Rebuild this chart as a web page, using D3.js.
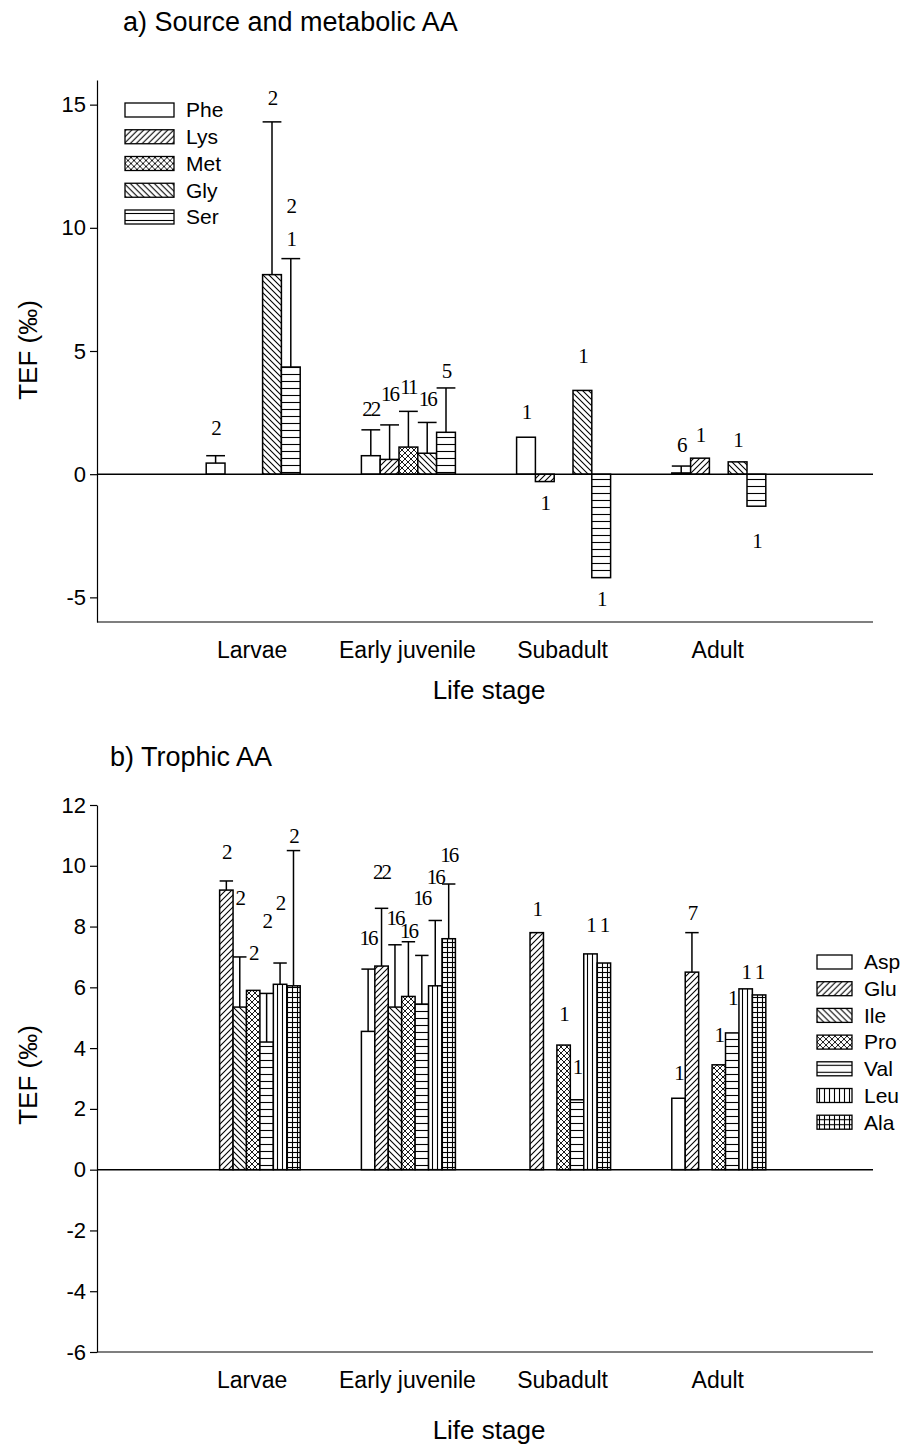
<!doctype html>
<html lang="en">

<head>
    <meta charset="UTF-8">
    <title>TEF by life stage</title>
    <script src="https://d3js.org/d3.v7.min.js"></script>
    <style>
        body {
            margin: 0;
            background: white;
        }

        svg {
            display: block;
        }

        text {
            font-family: Arial, "Liberation Sans", sans-serif;
            fill: black;
        }

        .n {
            font-family: "Times New Roman", "Liberation Serif", serif;
            font-size: 21px;
            letter-spacing: -2px;
        }
    </style>
</head>

<body>
    <svg width="915" height="1445"></svg>

    <script>
        const stages = ['Larvae', 'Early juvenile', 'Subadult', 'Adult'];

        // panel a: source and metabolic AA (null = not measured)
        const seriesA = ['Phe', 'Lys', 'Met', 'Gly', 'Ser'];
        const phe = [0.45, 0.75, 1.5, 0.05];
        const lys = [null, 0.6, -0.3, 0.65];
        const met = [null, 1.1, null, null];
        const gly = [8.1, 0.85, 3.4, 0.5];
        const ser = [4.35, 1.7, -4.2, -1.3];
        const pheErr = [0.3, 1.05, null, 0.28];
        const lysErr = [null, 1.4, null, null];
        const metErr = [null, 1.45, null, null];
        const glyErr = [6.2, 1.25, null, null];
        const serErr = [4.4, 1.8, null, null];
        const ticksA = [-5, 0, 5, 10, 15];

        // sample sizes written over the bars: [stage, series, text, height in TEF units]
        const nA = [
            [0, 'Phe', '2', 1.9], [0, 'Gly', '2', 15.3], [0, 'Ser', '2', 10.9], [0, 'Ser', '1', 9.55],
            [1, 'Phe', '22', 2.65], [1, 'Lys', '16', 3.25], [1, 'Met', '11', 3.55], [1, 'Gly', '16', 3.05], [1, 'Ser', '5', 4.2],
            [2, 'Phe', '1', 2.55], [2, 'Lys', '1', -1.15], [2, 'Gly', '1', 4.8], [2, 'Ser', '1', -5.05],
            [3, 'Phe', '6', 1.2], [3, 'Lys', '1', 1.6], [3, 'Gly', '1', 1.4], [3, 'Ser', '1', -2.7]
        ];

        // panel b: trophic AA
        const seriesB = ['Asp', 'Glu', 'Ile', 'Pro', 'Val', 'Leu', 'Ala'];
        const asp = [null, 4.55, null, 2.35];
        const glu = [9.2, 6.7, 7.8, 6.5];
        const ile = [5.35, 5.35, null, null];
        const pro = [5.9, 5.7, 4.1, 3.45];
        const val = [4.2, 5.45, 2.3, 4.5];
        const leu = [6.1, 6.05, 7.1, 5.95];
        const ala = [6.05, 7.6, 6.8, 5.75];
        const aspErr = [null, 2.05, null, null];
        const gluErr = [0.3, 1.9, null, 1.3];
        const ileErr = [1.65, 2.05, null, null];
        const proErr = [null, 1.8, null, null];
        const valErr = [1.6, 1.6, null, null];
        const leuErr = [0.7, 2.15, null, null];
        const alaErr = [4.45, 1.8, null, null];
        const ticksB = [-6, -4, -2, 0, 2, 4, 6, 8, 10, 12];

        const nB = [
            [0, 'Glu', '2', 10.45], [0, 'Ile', '2', 8.95], [0, 'Pro', '2', 7.15], [0, 'Val', '2', 8.2], [0, 'Leu', '2', 8.8], [0, 'Ala', '2', 11.0],
            [1, 'Asp', '16', 7.65], [1, 'Glu', '22', 9.8], [1, 'Ile', '16', 8.3], [1, 'Pro', '16', 7.85], [1, 'Val', '16', 8.95], [1, 'Leu', '16', 9.65], [1, 'Ala', '16', 10.35],
            [2, 'Glu', '1', 8.6], [2, 'Pro', '1', 5.15], [2, 'Val', '1', 3.4], [2, 'Leu', '1', 8.05], [2, 'Ala', '1', 8.05],
            [3, 'Asp', '1', 3.2], [3, 'Glu', '7', 8.45], [3, 'Pro', '1', 4.45], [3, 'Val', '1', 5.65], [3, 'Leu', '1', 6.5], [3, 'Ala', '1', 6.5]
        ];

        const svg = d3.select('svg');
        const defs = svg.append('defs');

        // hatch patterns
        function pattern(id, size, draw) {
            const p = defs.append('pattern')
                .attr('id', id)
                .attr('patternUnits', 'userSpaceOnUse')
                .attr('width', size)
                .attr('height', size);
            p.append('rect').attr('width', size).attr('height', size).attr('fill', 'white');
            draw(p, size);
        }
        const ln = (p, x1, y1, x2, y2, w) => p.append('line')
            .attr('x1', x1).attr('y1', y1).attr('x2', x2).attr('y2', y2)
            .attr('stroke', 'black').attr('stroke-width', w || 1.1);

        pattern('fwd', 6, (p, s) => { ln(p, 0, s, s, 0); ln(p, -1, 1, 1, -1); ln(p, s - 1, s + 1, s + 1, s - 1); });
        pattern('back', 6, (p, s) => { ln(p, 0, 0, s, s); ln(p, -1, s - 1, 1, s + 1); ln(p, s - 1, -1, s + 1, 1); });
        pattern('cross', 6, (p, s) => {
            ln(p, 0, s, s, 0, 0.9); ln(p, 0, 0, s, s, 0.9);
        });
        pattern('horiz', 7, (p, s) => { ln(p, 0, 3.5, s, 3.5); });
        pattern('vert', 5, (p, s) => { ln(p, 2.5, 0, 2.5, s); });
        pattern('grid', 5, (p, s) => { ln(p, 2.5, 0, 2.5, s); ln(p, 0, 2.5, s, 2.5); });

        const fills = {
            Phe: 'white', Lys: 'url(#fwd)', Met: 'url(#cross)', Gly: 'url(#back)', Ser: 'url(#horiz)',
            Asp: 'white', Glu: 'url(#fwd)', Ile: 'url(#back)', Pro: 'url(#cross)', Val: 'url(#horiz)',
            Leu: 'url(#vert)', Ala: 'url(#grid)'
        };

        const left = 97;
        const right = 873;

        const x0 = d3.scalePoint()
            .domain(stages)
            .range([left, right])
            .padding(1);

        function panel(opt) {
            const y = d3.scaleLinear().domain(opt.domain).range([opt.bottom, opt.top]);
            const x1 = d3.scaleBand().domain(opt.series).range([-46, 48]);
            const g = svg.append('g');

            // bars
            opt.series.forEach((s, si) => {
                const vals = opt.values[si];
                const errs = opt.errors[si];
                const rows = stages.map((st, i) => ({ st, v: vals[i], e: errs[i] }))
                    .filter((d) => d.v !== null);

                g.selectAll(null)
                    .data(rows)
                    .enter()
                    .append('rect')
                    .attr('x', (d) => x0(d.st) + x1(s))
                    .attr('width', x1.bandwidth())
                    .attr('y', (d) => y(Math.max(0, d.v)))
                    .attr('height', (d) => Math.abs(y(d.v) - y(0)))
                    .attr('fill', fills[s])
                    .attr('stroke', 'black')
                    .attr('stroke-width', 1.5);

                const withErr = rows.filter((d) => d.e !== null);
                const cx = (d) => x0(d.st) + x1(s) + x1.bandwidth() / 2;

                g.selectAll(null)
                    .data(withErr)
                    .enter()
                    .append('line')
                    .attr('x1', cx).attr('x2', cx)
                    .attr('y1', (d) => y(d.v)).attr('y2', (d) => y(d.v + d.e))
                    .attr('stroke', 'black').attr('stroke-width', 1.5);

                g.selectAll(null)
                    .data(withErr)
                    .enter()
                    .append('line')
                    .attr('x1', (d) => x0(d.st) + x1(s)).attr('x2', (d) => x0(d.st) + x1(s) + x1.bandwidth())
                    .attr('y1', (d) => y(d.v + d.e)).attr('y2', (d) => y(d.v + d.e))
                    .attr('stroke', 'black').attr('stroke-width', 1.5);
            });

            // n labels
            g.selectAll(null)
                .data(opt.labels)
                .enter()
                .append('text')
                .attr('class', 'n')
                .attr('x', (d) => x0(stages[d[0]]) + x1(d[1]) + x1.bandwidth() / 2)
                .attr('y', (d) => y(d[3]))
                .attr('dy', '0.35em')
                .attr('text-anchor', 'middle')
                .text((d) => d[2]);

            // zero line and bottom line
            g.append('line')
                .attr('x1', left).attr('x2', right)
                .attr('y1', y(0)).attr('y2', y(0))
                .attr('stroke', 'black').attr('stroke-width', 1.5);
            g.append('line')
                .attr('x1', left).attr('x2', right)
                .attr('y1', opt.bottom).attr('y2', opt.bottom)
                .attr('stroke', 'black').attr('stroke-width', 1.2);

            // y axis
            const ax = g.append('g')
                .attr('transform', `translate(${left},0)`)
                .call(d3.axisLeft(y).tickValues(opt.ticks).tickFormat((d) => String(d))
                    .tickSize(7).tickSizeOuter(0).tickPadding(4));
            ax.selectAll('path, line').attr('stroke', 'black').attr('stroke-width', 1.2);
            ax.selectAll('text')
                .style('font-family', 'Arial, "Liberation Sans", sans-serif')
                .style('font-size', '22px');

            // category labels
            g.selectAll(null)
                .data(stages)
                .enter()
                .append('text')
                .attr('x', (d) => x0(d))
                .attr('y', opt.bottom + 28)
                .attr('dy', '0.35em')
                .attr('text-anchor', 'middle')
                .style('font-size', '23px')
                .text((d) => d);

            g.append('text')
                .attr('x', 489)
                .attr('y', opt.xTitleY)
                .attr('dy', '0.35em')
                .attr('text-anchor', 'middle')
                .style('font-size', '26px')
                .text('Life stage');

            g.append('text')
                .attr('transform', `translate(28,${opt.yTitleY}) rotate(-90)`)
                .attr('dy', '0.35em')
                .attr('text-anchor', 'middle')
                .style('font-size', '26px')
                .text('TEF (‰)');

            g.append('text')
                .attr('x', opt.titleX)
                .attr('y', opt.titleY)
                .attr('dy', '0.35em')
                .style('font-size', '27px')
                .text(opt.title);

            // legend
            const lg = g.selectAll(null)
                .data(opt.series)
                .enter()
                .append('g')
                .attr('transform', (d, i) => `translate(${opt.legX},${opt.legY + i * opt.legStep})`);
            lg.append('rect')
                .attr('x', 0).attr('y', -7)
                .attr('width', opt.legW).attr('height', 14)
                .attr('fill', (d) => fills[d])
                .attr('stroke', 'black').attr('stroke-width', 1.3);
            lg.append('text')
                .attr('x', opt.legW + 12)
                .attr('dy', '0.35em')
                .style('font-size', '21px')
                .text((d) => d);
        }

        panel({
            series: seriesA,
            values: [phe, lys, met, gly, ser],
            errors: [pheErr, lysErr, metErr, glyErr, serErr],
            labels: nA,
            domain: [-6, 16],
            top: 80,
            bottom: 622,
            ticks: ticksA,
            xTitleY: 690,
            yTitleY: 350,
            title: 'a) Source and metabolic AA',
            titleX: 123,
            titleY: 22,
            legX: 125,
            legY: 110,
            legStep: 26.75,
            legW: 49
        });

        panel({
            series: seriesB,
            values: [asp, glu, ile, pro, val, leu, ala],
            errors: [aspErr, gluErr, ileErr, proErr, valErr, leuErr, alaErr],
            labels: nB,
            domain: [-6, 12],
            top: 805,
            bottom: 1352,
            ticks: ticksB,
            xTitleY: 1430,
            yTitleY: 1075,
            title: 'b) Trophic AA',
            titleX: 110,
            titleY: 757,
            legX: 817,
            legY: 962,
            legStep: 26.7,
            legW: 35
        });
    </script>
</body>

</html>
